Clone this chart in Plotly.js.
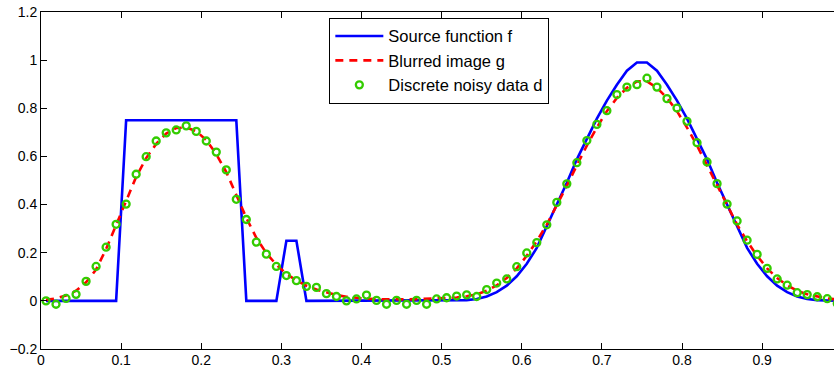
<!DOCTYPE html>
<html>
<head>
<meta charset="utf-8">
<script src="https://cdn.plot.ly/plotly-3.0.1.min.js"></script>
<style>html,body{margin:0;padding:0;background:#fff;}#chart{width:834px;height:368px;}</style>
</head>
<body>
<div id="chart"></div>
<script>
// sample positions t_i
var xGrid = [
  0.00625,0.01875,0.03125,0.04375,0.05625,0.06875,0.08125,0.09375,0.10625,0.11875,
  0.13125,0.14375,0.15625,0.16875,0.18125,0.19375,0.20625,0.21875,0.23125,0.24375,
  0.25625,0.26875,0.28125,0.29375,0.30625,0.31875,0.33125,0.34375,0.35625,0.36875,
  0.38125,0.39375,0.40625,0.41875,0.43125,0.44375,0.45625,0.46875,0.48125,0.49375,
  0.50625,0.51875,0.53125,0.54375,0.55625,0.56875,0.58125,0.59375,0.60625,0.61875,
  0.63125,0.64375,0.65625,0.66875,0.68125,0.69375,0.70625,0.71875,0.73125,0.74375,
  0.75625,0.76875,0.78125,0.79375,0.80625,0.81875,0.83125,0.84375,0.85625,0.86875,
  0.88125,0.89375,0.90625,0.91875,0.93125,0.94375,0.95625,0.96875,0.98125,0.99375
];
// Source function f
var sourceF = [
  0,0,0,0,0,0,0,0,0.75,0.75,
  0.75,0.75,0.75,0.75,0.75,0.75,0.75,0.75,0.75,0.75,
  0,0,0,0,0.25,0.25,0,0,0,0,
  0,0,0,0,0,0,0,0,0,0,
  0,0.001,0.003,0.008,0.018,0.036,0.063,0.102,0.154,0.22,
  0.31,0.402,0.491,0.588,0.674,0.757,0.832,0.898,0.956,0.99,
  0.99,0.956,0.898,0.832,0.757,0.674,0.588,0.491,0.402,0.31,
  0.22,0.154,0.102,0.063,0.036,0.018,0.008,0.003,0.001,0
];
// Blurred image g
var blurredG = [
  0.004,0.01,0.022,0.042,0.077,0.13,0.215,0.315,0.415,0.515,
  0.593,0.652,0.695,0.718,0.72,0.705,0.668,0.61,0.535,0.44,
  0.345,0.262,0.198,0.15,0.112,0.085,0.063,0.047,0.034,0.024,
  0.017,0.012,0.009,0.007,0.006,0.006,0.006,0.007,0.008,0.009,
  0.011,0.014,0.019,0.027,0.042,0.064,0.095,0.135,0.187,0.248,
  0.317,0.395,0.478,0.563,0.645,0.72,0.788,0.843,0.885,0.912,
  0.912,0.885,0.843,0.788,0.72,0.645,0.563,0.478,0.395,0.317,
  0.248,0.187,0.135,0.095,0.064,0.042,0.027,0.017,0.01,0.006
];
// Discrete noisy data d
var noisyD = [
  0,-0.014,0.01,0.027,0.081,0.143,0.223,0.318,0.402,0.526,
  0.599,0.664,0.698,0.71,0.727,0.704,0.664,0.618,0.544,0.422,
  0.338,0.244,0.194,0.143,0.105,0.084,0.06,0.056,0.03,0.018,
  0,0.008,0.024,0.002,-0.014,0.002,-0.014,0.002,-0.014,0.008,
  0.013,0.02,0.025,0.018,0.047,0.074,0.091,0.142,0.199,0.242,
  0.316,0.409,0.486,0.574,0.666,0.733,0.79,0.857,0.888,0.898,
  0.925,0.888,0.84,0.801,0.746,0.657,0.577,0.487,0.402,0.332,
  0.252,0.193,0.135,0.091,0.065,0.034,0.026,0.017,0.009,-0.011
];
var seriesNames = ['Source function f','Blurred image g','Discrete noisy data d'];
var xTicks = [0,0.1,0.2,0.3,0.4,0.5,0.6,0.7,0.8,0.9];
var yTicks = [-0.2,0,0.2,0.4,0.6,0.8,1,1.2];

var font = 'Liberation Sans, Arial, Helvetica, sans-serif';
var traces = [
  {x: xGrid, y: sourceF, type: 'scatter', mode: 'lines', name: seriesNames[0],
   line: {color: '#0000ff', width: 2.6}},
  {x: xGrid, y: blurredG, type: 'scatter', mode: 'lines', name: seriesNames[1],
   line: {color: '#ff0000', width: 2.6, dash: '8px,6px'}},
  {x: xGrid, y: noisyD, type: 'scatter', mode: 'markers', name: seriesNames[2],
   marker: {symbol: 'circle-open', size: 7, color: '#33cc00', line: {width: 2.3, color: '#33cc00'}}}
];
var axisCommon = {
  showline: true, linecolor: '#000', linewidth: 1,
  ticks: 'inside', ticklen: 6, tickwidth: 1, tickcolor: '#000',
  showgrid: false, zeroline: false,
  tickfont: {family: font, size: 14, color: '#000'}
};
var layout = {
  width: 834, height: 368,
  margin: {l: 41, r: 0, t: 12, b: 19},
  paper_bgcolor: '#fff', plot_bgcolor: '#fff',
  showlegend: true,
  legend: {x: 0.3636, y: 0.983, xanchor: 'left', yanchor: 'top',
    bgcolor: '#fff', bordercolor: '#000', borderwidth: 1,
    font: {family: font, size: 16.5, color: '#000'}, itemwidth: 48},
  xaxis: Object.assign({}, axisCommon, {range: [0, 0.9897], tickvals: xTicks, mirror: 'ticks', ticklabelstandoff: -2}),
  yaxis: Object.assign({}, axisCommon, {range: [-0.2, 1.2], tickvals: yTicks, mirror: false})
};
Plotly.newPlot('chart', traces, layout, {staticPlot: true, displayModeBar: false});
</script>
</body>
</html>
